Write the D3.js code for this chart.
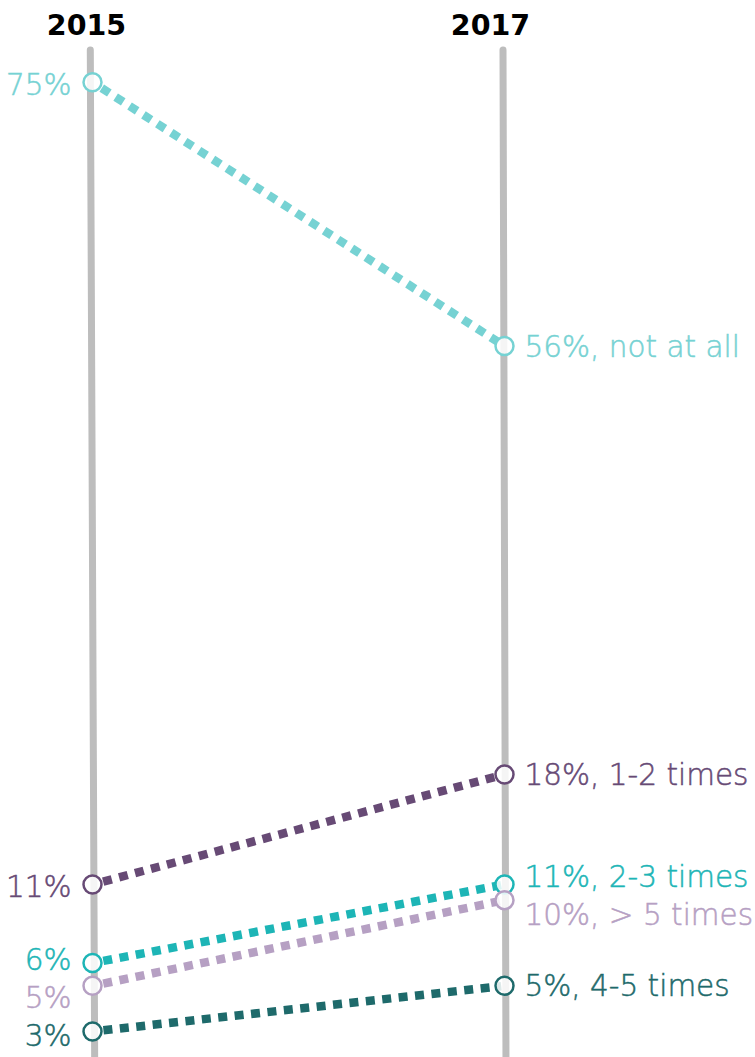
<!DOCTYPE html>
<html>
<head>
<meta charset="utf-8">
<script src="https://cdn.jsdelivr.net/npm/d3@7/dist/d3.min.js"></script>
<style>
  html, body { margin: 0; padding: 0; background: #ffffff; }
  svg { display: block; }
  .lbl { font-family: "DejaVu Sans", "Open Sans", sans-serif; font-weight: 200; font-size: 29.5px; stroke-width: 0.5px; }
  .yr { font-family: "DejaVu Sans", sans-serif; font-weight: 700; font-size: 28.5px; fill: #000; }
</style>
</head>
<body>
<svg id="chart" width="755" height="1057"></svg>
<script>
// ---- data ----
const years = ["2015", "2017"];
const categories = ["not at all", "1-2 times", "2-3 times", "> 5 times", "4-5 times"];
const values2015 = [75, 11, 6, 5, 3];
const values2017 = [56, 18, 11, 10, 5];
const colors = ["#76d2d3", "#674a75", "#1db5b6", "#b6a0c3", "#1e6a6b"];

// ---- layout ----
const W = 755, H = 1057;
const svg = d3.select("#chart");

const x = d3.scalePoint().domain(years).range([92.5, 504.5]);
// broken (piecewise) vertical scale, as in the original design
const y = d3.scaleLinear().domain([0, 6, 20, 60, 80]).range([1100, 963, 743, 302, 9]);

const r = 9;
const minGap = 38;
const maxLabelY = 1040;

// axes (gray vertical bars)
const axisG = svg.append("g");
years.forEach((yr, i) => {
  const cx = x(yr);
  const tilt = i === 0 ? 2.2 : 1.5;
  axisG.append("line")
    .attr("x1", cx - tilt).attr("y1", 50)
    .attr("x2", cx + tilt).attr("y2", H + 10)
    .attr("stroke", "#bdbdbd")
    .attr("stroke-width", 7)
    .attr("stroke-linecap", "round");
});

// year titles
const titleDx = [-6, -14];
svg.selectAll("text.yr").data(years).join("text")
  .attr("class", "yr")
  .attr("x", (d, i) => x(d) + titleDx[i])
  .attr("y", 35)
  .attr("text-anchor", "middle")
  .text(d => d);

const data = categories.map((c, i) => ({
  cat: c, v0: values2015[i], v1: values2017[i], color: colors[i]
}));

// slope lines (dashed), from circle edge to circle edge
const lineG = svg.append("g");
data.forEach(d => {
  const x0 = x(years[0]), y0 = y(d.v0);
  const x1 = x(years[1]), y1 = y(d.v1);
  const len = Math.hypot(x1 - x0, y1 - y0);
  const ux = (x1 - x0) / len, uy = (y1 - y0) / len;
  const off = r + 2;
  lineG.append("line")
    .attr("x1", x0 + ux * off).attr("y1", y0 + uy * off)
    .attr("x2", x1 - ux * off * 0.3).attr("y2", y1 - uy * off * 0.3)
    .attr("stroke", d.color)
    .attr("stroke-width", 8.5)
    .attr("stroke-dasharray", "9,7.5");
});

// circles
const dotG = svg.append("g");
data.forEach(d => {
  [[years[0], d.v0], [years[1], d.v1]].forEach(([yr, v]) => {
    dotG.append("circle")
      .attr("cx", x(yr)).attr("cy", y(v)).attr("r", r)
      .attr("fill", "rgba(255,255,255,0.85)")
      .attr("stroke", d.color)
      .attr("stroke-width", 2.5);
  });
});

// label placement: relaxation keeping a minimum spacing (labels lean downward)
function place(vals) {
  const items = vals.map((v, i) => ({ i, y: y(v) })).sort((a, b) => a.y - b.y);
  for (let it = 0; it < 300; it++) {
    for (let k = 1; k < items.length; k++) {
      const gap = items[k].y - items[k - 1].y;
      if (gap < minGap) {
        const o = minGap - gap;
        items[k].y += o * 0.65; items[k - 1].y -= o * 0.35;
      }
    }
    const last = items[items.length - 1];
    if (last.y > maxLabelY) last.y = maxLabelY;
  }
  const out = []; items.forEach(o => out[o.i] = o.y); return out;
}
const ly0 = place(values2015);
const ly1 = place(values2017);

const labG = svg.append("g");
data.forEach((d, i) => {
  labG.append("text")
    .attr("class", "lbl")
    .attr("x", x(years[0]) - 21)
    .attr("y", ly0[i] + 2)
    .attr("dy", "0.36em")
    .attr("text-anchor", "end")
    .attr("fill", d.color)
    .attr("stroke", d.color)
    .text(d.v0 + "%");
  labG.append("text")
    .attr("class", "lbl")
    .attr("x", x(years[1]) + 20)
    .attr("y", ly1[i])
    .attr("dy", "0.36em")
    .attr("text-anchor", "start")
    .attr("fill", d.color)
    .attr("stroke", d.color)
    .text(d.v1 + "%, " + d.cat);
});
</script>
</body>
</html>
